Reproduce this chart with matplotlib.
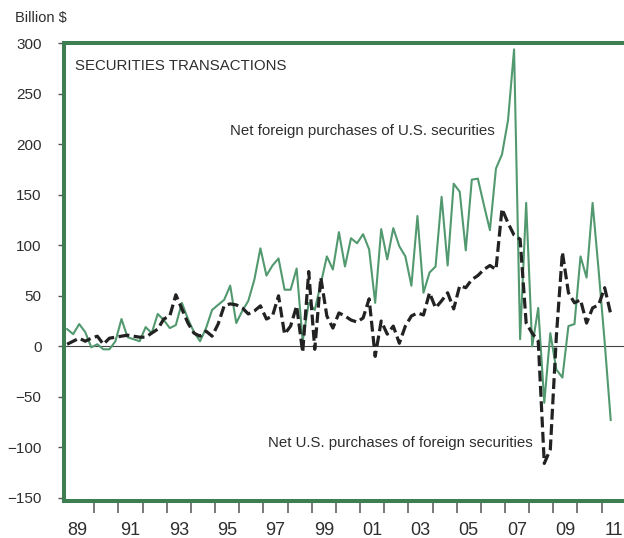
import numpy as np
import pandas as pd
import matplotlib
matplotlib.use("Agg")
import matplotlib.pyplot as plt
from matplotlib.ticker import FixedLocator, FixedFormatter, NullFormatter

plt.rcParams['font.family'] = ['Liberation Sans', 'DejaVu Sans']

# quarterly observations, 1988Q4 - 2011Q2 (billion $)
quarters = pd.period_range('1988Q4', '2011Q2', freq='Q')

foreign_buys_us = [17, 12, 22, 14, -1, 2, -3, -3, 5, 27,
                   9, 7, 5, 19, 13, 32, 26, 18, 21, 43,
                   27, 14, 5, 18, 36, 41, 46, 60, 23, 35,
                   45, 66, 97, 70, 80, 87, 56, 56, 77, 5,
                   43, 36, 62, 89, 76, 113, 79, 107, 102, 111,
                   96, 43, 116, 86, 117, 99, 89, 60, 129, 53,
                   73, 79, 148, 80, 161, 153, 95, 165, 166, 140,
                   115, 176, 190, 224, 294, 7, 142, 0, 38, -56,
                   13, -23, -31, 20, 22, 89, 68, 142, 75, 4,
                   -73]

us_buys_foreign = [2, 5, 8, 5, 8, 10, 2, 8, 9, 10,
                   11, 10, 9, 9, 13, 17, 27, 30, 51, 37,
                   23, 13, 10, 15, 10, 22, 40, 42, 41, 38,
                   32, 35, 40, 27, 30, 50, 12, 20, 40, -6,
                   74, -3, 68, 30, 18, 33, 30, 26, 24, 28,
                   47, -10, 25, 12, 20, 3, 20, 30, 33, 31,
                   53, 38, 45, 53, 37, 60, 58, 66, 70, 76,
                   80, 76, 136, 122, 110, 106, 23, 13, 5, -116,
                   -102, 10, 93, 53, 43, 46, 23, 38, 41, 58,
                   32]

y_ticks = [-150, -100, -50, 0, 50, 100, 150, 200, 250, 300]
year_labels = ['89', '91', '93', '95', '97', '99', '01', '03', '05', '07', '09', '11']
label_years = [1989, 1991, 1993, 1995, 1997, 1999, 2001, 2003, 2005, 2007, 2009, 2011]

# mid-quarter position in decimal years
t = quarters.year + (quarters.quarter - 1) / 4 + 0.125

W, H = 624, 538
frame_green = '#3e7f52'
line_green = '#52996f'
ink = '#2e2e2e'

fig = plt.figure(figsize=(W / 100, H / 100), dpi=100)
left_px, right_px, top_px, bottom_px = 63.7, 640, 43.3, 500.8
ax = fig.add_axes([left_px / W, 1 - bottom_px / H,
                   (right_px - left_px) / W, (bottom_px - top_px) / H])

ax.axhline(0, color='#444444', lw=0.8, zorder=1)
ax.plot(t, foreign_buys_us, color=line_green, lw=1.5, zorder=2)
ax.plot(t, us_buys_foreign, color='#222222', lw=2.3, dashes=(3.4, 1.4), zorder=3)

ax.set_xlim(1988.733, 2012.587)
ax.set_ylim(-153, 300)

for s in ax.spines.values():
    s.set_color(frame_green)
    s.set_linewidth(2.9)

ax.yaxis.set_major_locator(FixedLocator(y_ticks))
ax.tick_params(axis='y', direction='out', length=4, width=1, color='#555555',
               pad=12, labelsize=11, labelcolor=ink)

# label for the first year sits a little left, clear of the frame
label_pos = [y + 0.5 for y in label_years]
label_pos[0] = 1989.3
ax.xaxis.set_major_locator(FixedLocator(list(range(1990, 2012))))
ax.xaxis.set_major_formatter(NullFormatter())
ax.xaxis.set_minor_locator(FixedLocator(label_pos))
ax.xaxis.set_minor_formatter(FixedFormatter(year_labels))
ax.tick_params(axis='x', which='major', direction='out', length=8.8, width=1.1,
               color='#555555')
ax.tick_params(axis='x', which='minor', length=0, pad=15, labelsize=13,
               labelcolor=ink)

def px_text(x, y, s, size):
    fig.text(x / W, 1 - y / H, s, ha='left', va='center', fontsize=size, color=ink)

px_text(15, 18, 'Billion $', 10.5)
px_text(75, 66, 'SECURITIES TRANSACTIONS', 10.8)
px_text(230, 131, 'Net foreign purchases of U.S. securities', 10.8)
px_text(268, 443, 'Net U.S. purchases of foreign securities', 10.8)

fig.savefig('out.png', dpi=100, facecolor='white')
